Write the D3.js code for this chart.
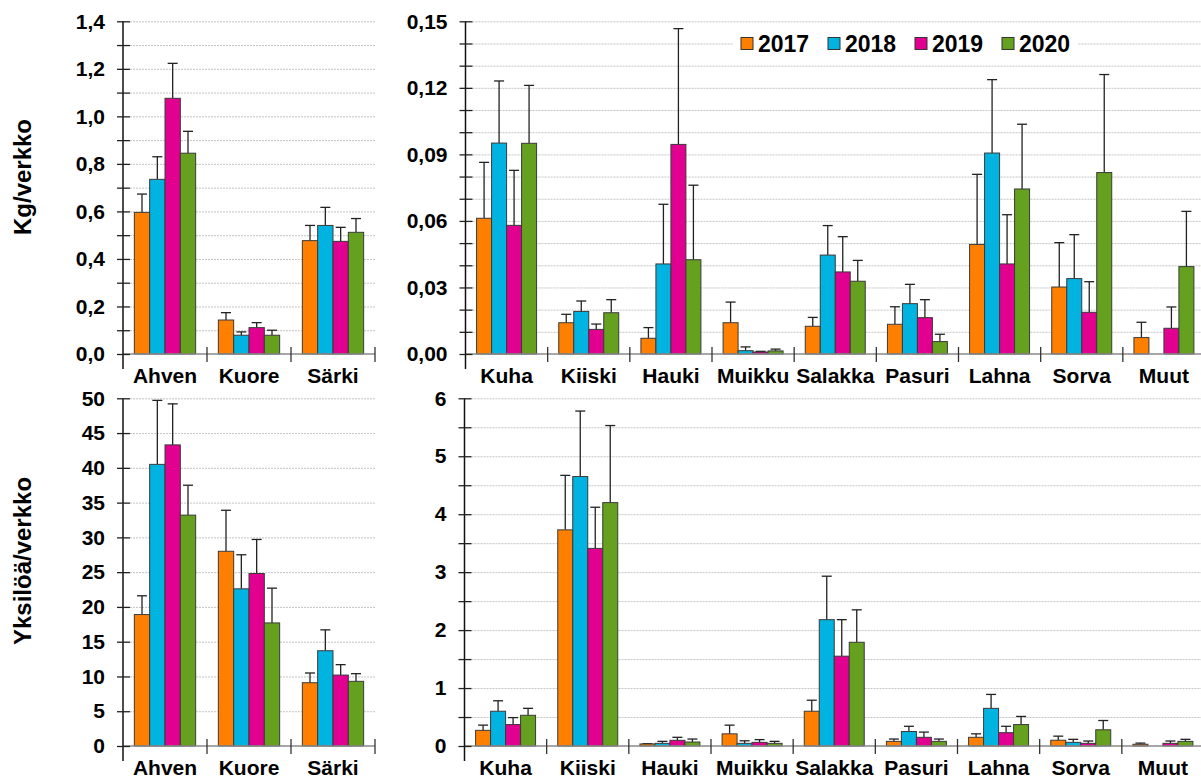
<!DOCTYPE html>
<html>
<head>
<meta charset="utf-8">
<script src="https://cdn.jsdelivr.net/npm/d3@7"></script>
<style>
  body { margin: 0; background: #fff; }
  svg { font-family: "Liberation Sans", Arial, sans-serif; font-weight: bold; }
</style>
</head>
<body>
<svg id="chart" width="1201" height="780"></svg>
<script>
// data ========================================================================

var years = ['2017', '2018', '2019', '2020'],
    colors = ['#ff8000', '#00b3e0', '#e1008f', '#65a01f'];

var mainFish = ['Ahven', 'Kuore', 'Särki'],
    otherFish = ['Kuha', 'Kiiski', 'Hauki', 'Muikku', 'Salakka', 'Pasuri', 'Lahna', 'Sorva', 'Muut'];

// kg per net, one row per species, one value per year
var kgMain = [
    [0.596, 0.735, 1.076, 0.845],
    [0.143, 0.079, 0.111, 0.079],
    [0.477, 0.541, 0.474, 0.512]
];
var kgMainUpper = [
    [0.673, 0.830, 1.223, 0.937],
    [0.174, 0.093, 0.132, 0.100],
    [0.541, 0.617, 0.533, 0.570]
];
var kgOther = [
    [0.0612, 0.0951, 0.0580, 0.0950],
    [0.0141, 0.0192, 0.0111, 0.0186],
    [0.0071, 0.0406, 0.0945, 0.0425],
    [0.0141, 0.0015, 0.0009, 0.0014],
    [0.0125, 0.0446, 0.0370, 0.0328],
    [0.0134, 0.0227, 0.0164, 0.0056],
    [0.0494, 0.0906, 0.0406, 0.0744],
    [0.0302, 0.0340, 0.0188, 0.0818],
    [0.0074, 0.0000, 0.0116, 0.0394]
];
var kgOtherUpper = [
    [0.0864, 0.1231, 0.0828, 0.1211],
    [0.0179, 0.0239, 0.0135, 0.0245],
    [0.0119, 0.0675, 0.1467, 0.0761],
    [0.0234, 0.0032, 0.0012, 0.0022],
    [0.0165, 0.0579, 0.0529, 0.0422],
    [0.0213, 0.0314, 0.0245, 0.0089],
    [0.0810, 0.1237, 0.0628, 0.1036],
    [0.0502, 0.0538, 0.0326, 0.1260],
    [0.0143, 0.0000, 0.0212, 0.0643]
];

// individuals per net
var nMain = [
    [18.9, 40.5, 43.3, 33.2],
    [28.0, 22.6, 24.8, 17.7],
    [9.1, 13.7, 10.2, 9.3]
];
var nMainUpper = [
    [21.6, 49.7, 49.2, 37.5],
    [33.9, 27.5, 29.7, 22.7],
    [10.5, 16.7, 11.7, 10.4]
];
var nOther = [
    [0.27, 0.60, 0.37, 0.53],
    [3.73, 4.65, 3.41, 4.20],
    [0.035, 0.046, 0.098, 0.069],
    [0.21, 0.046, 0.063, 0.046],
    [0.60, 2.18, 1.55, 1.79],
    [0.08, 0.25, 0.15, 0.08],
    [0.15, 0.65, 0.23, 0.37],
    [0.10, 0.063, 0.046, 0.28],
    [0.03, 0.00, 0.046, 0.08]
];
var nOtherUpper = [
    [0.36, 0.78, 0.49, 0.65],
    [4.67, 5.78, 4.12, 5.53],
    [0.04, 0.08, 0.15, 0.12],
    [0.36, 0.09, 0.11, 0.08],
    [0.79, 2.93, 2.18, 2.35],
    [0.12, 0.34, 0.24, 0.12],
    [0.21, 0.89, 0.34, 0.51],
    [0.17, 0.115, 0.086, 0.44],
    [0.05, 0.00, 0.086, 0.115]
];

// drawing =====================================================================

var svg = d3.select('#chart');

function comma(fmt) {
    var f = d3.format(fmt);
    return function(d) { return f(d).replace('.', ','); };
}

function drawPanel(p) {
    var g = svg.append('g');

    var x0 = d3.scaleBand().domain(p.cats).range([p.left, p.right]).padding(0),
        bw = x0.bandwidth(),
        x1 = d3.scaleBand().domain(years).range([bw * 0.135, bw * 0.865]).padding(0),
        y = d3.scaleLinear().domain([0, p.max]).range([p.bottom, p.top]);

    // dotted grid
    g.append('g').selectAll('line')
        .data(p.grid.filter(function(d) { return d > 0; }))
        .enter().append('line')
        .attr('x1', p.left + 7).attr('x2', p.right)
        .attr('y1', function(d) { return y(d) + 0.5; })
        .attr('y2', function(d) { return y(d) + 0.5; })
        .attr('stroke', '#c4c4c4')
        .attr('stroke-dasharray', '2,1');

    if (p.legend) p.legend(g, y);

    // bars
    var groups = g.selectAll('.cat')
        .data(p.cats)
        .enter().append('g')
        .attr('transform', function(d) { return 'translate(' + x0(d) + ',0)'; });

    groups.each(function(cat, ci) {
        var cg = d3.select(this);
        years.forEach(function(yr, yi) {
            var v = p.values[ci][yi],
                hi = p.upper[ci][yi],
                bx = x1(yr),
                cx = bx + x1.bandwidth() / 2;
            if (hi > v) {
                cg.append('line')
                    .attr('x1', cx).attr('x2', cx)
                    .attr('y1', y(v)).attr('y2', y(hi))
                    .attr('stroke', '#222').attr('stroke-width', 1.3);
                cg.append('line')
                    .attr('x1', cx - 5).attr('x2', cx + 5)
                    .attr('y1', y(hi)).attr('y2', y(hi))
                    .attr('stroke', '#222').attr('stroke-width', 1.3);
            }
            cg.append('rect')
                .attr('x', bx)
                .attr('y', y(v))
                .attr('width', x1.bandwidth())
                .attr('height', y(0) - y(v))
                .attr('fill', colors[yi])
                .attr('stroke', '#3a3a3a')
                .attr('stroke-width', 1);
        });
    });

    // baseline and category dividers
    g.append('line')
        .attr('x1', p.left).attr('x2', p.right)
        .attr('y1', p.bottom).attr('y2', p.bottom)
        .attr('stroke', '#8a8a8a').attr('stroke-width', 1.5);

    g.append('g').selectAll('line')
        .data(p.cats.slice(1).map(function(c) { return x0(c); }).concat([p.right]))
        .enter().append('line')
        .attr('x1', function(d) { return d; })
        .attr('x2', function(d) { return d; })
        .attr('y1', p.bottom - 7).attr('y2', p.bottom + 8)
        .attr('stroke', '#333').attr('stroke-width', 1.3);

    // y axis
    var yAxis = g.append('g')
        .attr('transform', 'translate(' + p.left + ',0)')
        .call(d3.axisLeft(y)
            .tickValues(p.ticks)
            .tickSize(6)
            .tickPadding(12)
            .tickFormat(function(d) {
                return p.labels.indexOf(d) >= 0 ? p.format(d) : '';
            }));
    yAxis.select('.domain')
        .attr('d', 'M0,' + p.top + 'V' + (p.bottom + 15))
        .attr('stroke', '#111').attr('stroke-width', 1.5);
    yAxis.selectAll('.tick line')
        .attr('x1', -6).attr('x2', 7)
        .attr('stroke', '#222').attr('stroke-width', 1.3);
    yAxis.selectAll('.tick text')
        .attr('font-size', 21)
        .attr('font-weight', 'bold')
        .attr('font-family', '"Liberation Sans", Arial, sans-serif')
        .attr('fill', '#000');

    // category labels
    g.append('g').selectAll('text')
        .data(p.cats)
        .enter().append('text')
        .attr('x', function(d) { return x0(d) + bw / 2; })
        .attr('y', p.bottom + 29)
        .attr('text-anchor', 'middle')
        .attr('font-size', 21)
        .text(function(d) { return d; });
}

function drawLegend(g, y) {
    var ly = y(0.14),
        xs = [741, 828, 915, 1002];
    g.append('rect')
        .attr('x', 733).attr('y', ly - 14)
        .attr('width', 345).attr('height', 28)
        .attr('fill', '#fff');
    years.forEach(function(yr, i) {
        g.append('rect')
            .attr('x', xs[i]).attr('y', ly - 6)
            .attr('width', 12).attr('height', 12)
            .attr('fill', colors[i])
            .attr('stroke', '#333').attr('stroke-width', 1);
        g.append('text')
            .attr('x', xs[i] + 17).attr('y', ly + 8.5)
            .attr('font-size', 23)
            .text(yr);
    });
}

function range(a, b, s) {
    return d3.range(Math.round(a / s), Math.round(b / s) + 1).map(function(i) { return +(i * s).toFixed(4); });
}

drawPanel({
    cats: mainFish, values: kgMain, upper: kgMainUpper,
    left: 123, right: 375, top: 21.3, bottom: 354, max: 1.4,
    ticks: range(0, 1.4, 0.1), grid: range(0, 1.4, 0.1), labels: range(0, 1.4, 0.2),
    format: comma('.1f')
});

drawPanel({
    cats: otherFish, values: kgOther, upper: kgOtherUpper,
    left: 465.5, right: 1205, top: 21.3, bottom: 354, max: 0.15,
    ticks: range(0, 0.15, 0.01), grid: range(0, 0.15, 0.01), labels: range(0, 0.15, 0.03),
    format: comma('.2f'),
    legend: drawLegend
});

drawPanel({
    cats: mainFish, values: nMain, upper: nMainUpper,
    left: 123, right: 375, top: 398.3, bottom: 746, max: 50,
    ticks: range(0, 50, 5), grid: range(0, 50, 5), labels: range(0, 50, 5),
    format: d3.format('d')
});

drawPanel({
    cats: otherFish, values: nOther, upper: nOtherUpper,
    left: 464.5, right: 1204, top: 398.3, bottom: 746, max: 6,
    ticks: range(0, 6, 0.5), grid: range(0, 6, 0.5), labels: range(0, 6, 1),
    format: d3.format('d')
});

// axis titles
svg.append('text')
    .attr('transform', 'translate(31,177) rotate(-90)')
    .attr('text-anchor', 'middle')
    .attr('font-size', 24)
    .text('Kg/verkko');

svg.append('text')
    .attr('transform', 'translate(31,561) rotate(-90)')
    .attr('text-anchor', 'middle')
    .attr('font-size', 24)
    .text('Yksilöä/verkko');
</script>
</body>
</html>
